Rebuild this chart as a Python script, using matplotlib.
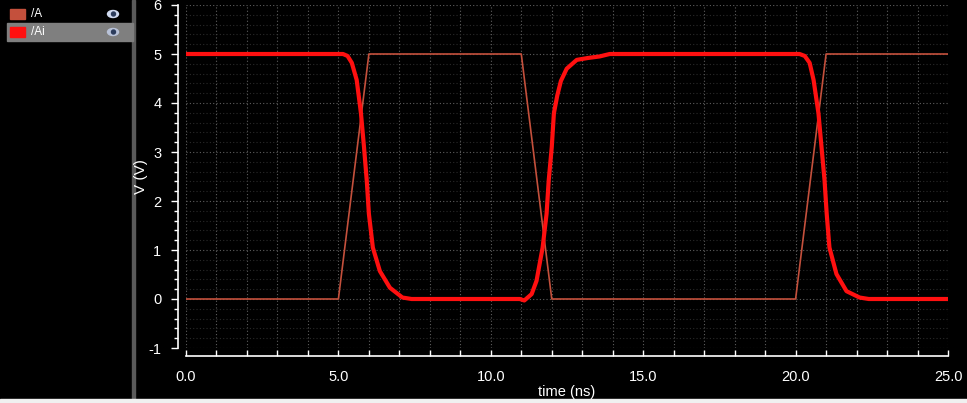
import matplotlib
matplotlib.use("Agg")
import matplotlib.pyplot as plt
from matplotlib.patches import Rectangle, Ellipse
from matplotlib.ticker import MultipleLocator, FormatStrFormatter

# ── Data ───────────────────────────────────────────────────────────────────────

# input pulse /A (ns, V)
t_a = [0.0, 5.0, 6.0, 11.0, 12.0, 20.0, 21.0, 25.0]
v_a = [0.0, 0.0, 5.0, 5.0, 0.0, 0.0, 5.0, 5.0]

# inverter output /Ai (ns, V)
t_ai = [0.0, 5.15, 5.3, 5.44, 5.6, 5.74, 5.84, 5.93, 6.0, 6.13, 6.36, 6.69,
        7.1, 7.4, 10.95, 11.1, 11.34, 11.5, 11.7, 11.83, 11.9, 12.0, 12.07,
        12.18, 12.3, 12.49, 12.82, 13.2, 13.57, 13.9, 20.13, 20.3, 20.46,
        20.59, 20.75, 20.85, 20.95, 21.02, 21.11, 21.34, 21.67, 22.1, 22.4, 25.0]
v_ai = [5.0, 5.0, 4.96, 4.82, 4.47, 3.79, 3.1, 2.42, 1.74, 1.05, 0.57, 0.23,
        0.03, 0.0, 0.0, -0.03, 0.1, 0.37, 1.05, 1.74, 2.42, 3.1, 3.79,
        4.15, 4.45, 4.7, 4.88, 4.92, 4.95, 5.0, 5.0, 4.96, 4.82,
        4.47, 3.79, 3.1, 2.42, 1.74, 1.05, 0.51, 0.16, 0.03, 0.0, 0.0]

legend_names = ["/A", "/Ai"]
COL_A = "#c4503c"
COL_AI = "#ff1010"

# ── Figure ─────────────────────────────────────────────────────────────────────

plt.rcParams["font.family"] = ["Liberation Sans", "DejaVu Sans"]
plt.rcParams["axes.unicode_minus"] = False

W, H = 967, 403
fig = plt.figure(figsize=(W / 100, H / 100), dpi=100, facecolor="black")

# decorations layer in pixel coords (legend panel, separator, bottom strip)
deco = fig.add_axes([0, 0, 1, 1], zorder=-1)
deco.set_xlim(0, W)
deco.set_ylim(H, 0)
deco.axis("off")
deco.add_patch(Rectangle((132, 0), 2.5, H, color="#5a5a5a"))
deco.add_patch(Rectangle((7, 23), 126, 18, color="#7f7f7f"))
deco.add_patch(Rectangle((0, 399), W, 4, color="#f0f0f0"))
for i, (name, col) in enumerate(zip(legend_names, [COL_A, COL_AI])):
    yc = 14 + 18 * i
    deco.add_patch(Rectangle((10, yc - 5), 15, 10, color=col))
    deco.text(31, yc, name, color="white", fontsize=8.5, va="center", ha="left")
    deco.add_patch(Ellipse((113, yc), 11, 7, color="#d0daf0" if i == 0 else "#b8c2d8"))
    deco.add_patch(Ellipse((113.5, yc), 4, 4, color="#2c3c5c"))

# main plot
ax = fig.add_axes([186 / W, 1 - 348 / H, 762 / W, 343 / H])
ax.set_facecolor("black")
ax.plot(t_a, v_a, color=COL_A, linewidth=1.2, zorder=3)
ax.plot(t_ai, v_ai, color=COL_AI, linewidth=3.0, zorder=4,
        solid_joinstyle="round", solid_capstyle="butt")

ax.set_xlim(0, 25)
ax.set_ylim(-1, 6)

ax.xaxis.set_major_locator(MultipleLocator(5))
ax.xaxis.set_minor_locator(MultipleLocator(1))
ax.xaxis.set_major_formatter(FormatStrFormatter("%.1f"))
ax.yaxis.set_major_locator(MultipleLocator(1))
ax.yaxis.set_minor_locator(MultipleLocator(0.2))

# dotted grids
ax.grid(which="major", axis="both", color="#5e5e5e", linestyle=(0, (1, 2)), linewidth=0.8)
ax.grid(which="minor", axis="x", color="#5e5e5e", linestyle=(0, (1, 2)), linewidth=0.8)
ax.grid(which="minor", axis="y", color="#2a2a2a", linestyle=(0, (1, 2)), linewidth=0.8)

for s in ["top", "right"]:
    ax.spines[s].set_visible(False)
for s in ["left", "bottom"]:
    ax.spines[s].set_color("white")
    ax.spines[s].set_linewidth(1.2)
    ax.spines[s].set_position(("outward", 5.8))

ax.tick_params(axis="y", which="major", direction="out", length=5, width=1,
               color="white", labelcolor="white", labelsize=10.5, pad=7)
ax.tick_params(axis="y", which="minor", direction="out", length=3, width=1,
               color="white")
ax.tick_params(axis="x", which="both", direction="in", length=4.5, width=1,
               color="white", labelcolor="white", labelsize=10.5, pad=10)

ax.set_ylabel("V (V)", color="white", fontsize=11)
ax.yaxis.set_label_coords(-0.05, 0.5)
ax.set_xlabel("time (ns)", color="white", fontsize=10.5)
ax.xaxis.set_label_coords(0.5, -0.128)
ax.xaxis.label.set_va("center")

fig.savefig("out.png", dpi=100, facecolor="black")
